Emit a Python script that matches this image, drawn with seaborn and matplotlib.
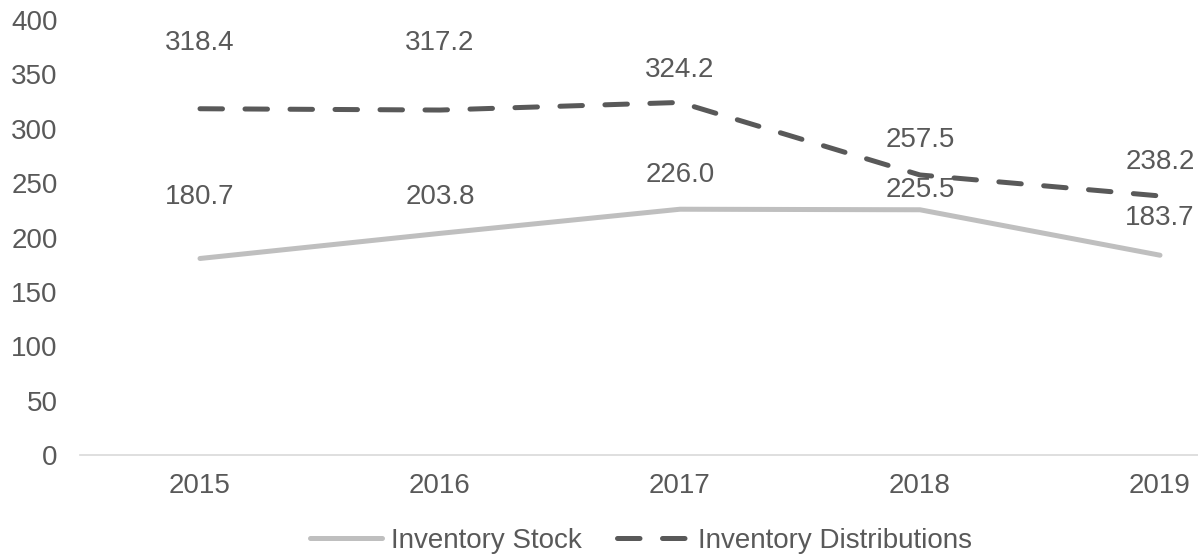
import matplotlib
matplotlib.use("Agg")
import matplotlib.pyplot as plt
import seaborn as sns
import pandas as pd
from matplotlib.lines import Line2D

years = ["2015", "2016", "2017", "2018", "2019"]
inventory_stock = [180.7, 203.8, 226.0, 225.5, 183.7]
inventory_distributions = [318.4, 317.2, 324.2, 257.5, 238.2]
series_names = ["Inventory Stock", "Inventory Distributions"]
y_ticks = [0, 50, 100, 150, 200, 250, 300, 350, 400]

sns.set_theme(style="white")
plt.rcParams["font.family"] = ["Liberation Sans", "DejaVu Sans"]

TXT = "#595959"
STOCK_C = "#bfbfbf"
DIST_C = "#595959"
FS = 20

fig = plt.figure(figsize=(11.98, 5.58), dpi=100)
ax = fig.add_axes([80 / 1198, 103 / 558, 1200 / 1198, 435 / 558])

df = pd.DataFrame({
    "year": years * 2,
    "value": inventory_stock + inventory_distributions,
    "series": [series_names[0]] * 5 + [series_names[1]] * 5,
})
x_idx = list(range(len(years)))
df["x"] = x_idx * 2

sns.lineplot(data=df[df.series == series_names[0]], x="x", y="value", ax=ax,
             color=STOCK_C, linewidth=3.6, solid_capstyle="round", legend=False)
sns.lineplot(data=df[df.series == series_names[1]], x="x", y="value", ax=ax,
             color=DIST_C, linewidth=3.6, legend=False)
ax.lines[1].set_dashes([4.5, 4.5])
ax.lines[1].set_dash_capstyle("round")

ax.set_xlim(-0.5, 4.5)
ax.set_ylim(0, 400)
ax.set_xticks(x_idx)
ax.set_xticklabels(years)
ax.set_yticks(y_ticks)
ax.set_xlabel("")
ax.set_ylabel("")
ax.tick_params(axis="both", length=0, colors=TXT, labelsize=FS)
ax.tick_params(axis="x", pad=13)
ax.tick_params(axis="y", pad=16)
for s in ["top", "right", "left"]:
    ax.spines[s].set_visible(False)
ax.spines["bottom"].set_color("#d9d9d9")
ax.spines["bottom"].set_linewidth(1.2)

# label offsets in pixels (styling only)
stock_off = [61, 36, 34, 20, 37]
dist_off = [66, 67, 32, 35, 34]
for i, (v, o) in enumerate(zip(inventory_stock, stock_off)):
    ax.annotate(f"{v:.1f}", (i, v), xytext=(0, o), textcoords="offset pixels",
                ha="center", va="center", color=TXT, fontsize=FS)
for i, (v, o) in enumerate(zip(inventory_distributions, dist_off)):
    ax.annotate(f"{v:.1f}", (i, v), xytext=(0, o), textcoords="offset pixels",
                ha="center", va="center", color=TXT, fontsize=FS)

handles = [
    Line2D([0], [0], color=STOCK_C, linewidth=3.6, solid_capstyle="round"),
    Line2D([0], [0], color=DIST_C, linewidth=3.6, dashes=[4.5, 4.5], dash_capstyle="round"),
]
fig.legend(handles, series_names, loc="center", bbox_to_anchor=(641 / 1198, 1 - 541 / 558),
           ncol=2, frameon=False, fontsize=FS, labelcolor=TXT, handlelength=2.6,
           handletextpad=0.3, columnspacing=1.3)

fig.savefig("out.png", dpi=100)
